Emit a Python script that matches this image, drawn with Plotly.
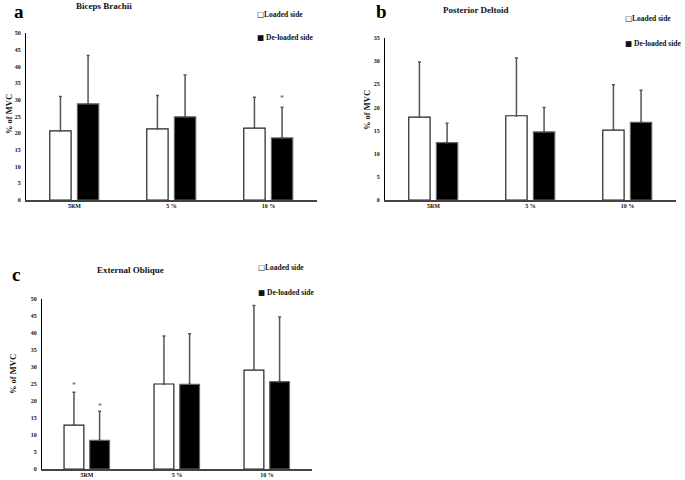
import plotly.graph_objects as go

# ---------------- data ----------------
categories = ["5RM", "5 %", "10 %"]
series_names = ["Loaded side", "De-loaded side"]

biceps_loaded = [20.7, 21.3, 21.5]
biceps_loaded_upper = [31.0, 31.3, 30.8]
biceps_deloaded = [28.8, 24.9, 18.6]
biceps_deloaded_upper = [43.3, 37.4, 27.8]

deltoid_loaded = [17.9, 18.2, 15.1]
deltoid_loaded_upper = [29.8, 30.7, 24.9]
deltoid_deloaded = [12.4, 14.7, 16.8]
deltoid_deloaded_upper = [16.6, 20.0, 23.7]

oblique_loaded = [12.9, 25.0, 29.1]
oblique_loaded_upper = [22.6, 39.1, 48.1]
oblique_deloaded = [8.4, 24.9, 25.7]
oblique_deloaded_upper = [17.0, 39.8, 44.7]

ticks_50 = [0, 5, 10, 15, 20, 25, 30, 35, 40, 45, 50]
ticks_35 = [0, 5, 10, 15, 20, 25, 30, 35]

panel_titles = ["Biceps Brachii", "Posterior Deltoid", "External Oblique"]
panel_letters = ["a", "b", "c"]
y_title = "% of MVC"

# significance markers: (panel index, category index, series index, y value)
asterisks = [(0, 2, 1, 30.3), (2, 0, 0, 24.6), (2, 0, 1, 18.5)]

# ---------------- layout helpers ----------------
W, H = 685, 480
def fx(px):
    return px / W
def fy(py):
    return 1 - py / H

FONT = "Liberation Serif, Times New Roman, serif"
TXT = "#111111"
BAR_W = 0.22
OFFSETS = [-0.255, 0.03]

panels = [
    dict(loaded=biceps_loaded, lu=biceps_loaded_upper, de=biceps_deloaded, du=biceps_deloaded_upper,
         xdom=(26, 317), ydom=(200, 33), ymax=50, ticks=ticks_50,
         letter=(19, 11), title=(104, 6), leg=(255, 14, 37), ytitle=(9, 114)),
    dict(loaded=deltoid_loaded, lu=deltoid_loaded_upper, de=deltoid_deloaded, du=deltoid_deloaded_upper,
         xdom=(385, 676), ydom=(200, 38), ymax=35, ticks=ticks_35,
         letter=(381, 11), title=(476, 10), leg=(623, 19, 43), ytitle=(367, 110)),
    dict(loaded=oblique_loaded, lu=oblique_loaded_upper, de=oblique_deloaded, du=oblique_deloaded_upper,
         xdom=(42, 312), ydom=(469, 299), ymax=50, ticks=ticks_50,
         letter=(16, 274), title=(130, 270), leg=(256, 267, 292), ytitle=(13, 374)),
]

fig = go.Figure()
annotations = []
layout_axes = {}

for i, p in enumerate(panels):
    n = "" if i == 0 else str(i + 1)
    xa, ya = "x" + n, "y" + n
    for s, (vals, upper, fill, outline) in enumerate([
        (p["loaded"], p["lu"], "white", "#222222"),
        (p["de"], p["du"], "black", "#666666"),
    ]):
        fig.add_trace(go.Bar(
            x=categories, y=vals, name=series_names[s], showlegend=False,
            xaxis=xa, yaxis=ya, width=BAR_W, offset=OFFSETS[s],
            marker=dict(color=fill, line=dict(color=outline, width=1.2)),
            error_y=dict(type="data", symmetric=False,
                         array=[u - v for u, v in zip(upper, vals)],
                         arrayminus=[0] * len(vals),
                         color="#555555", thickness=1.5, width=1.5),
        ))
    layout_axes["xaxis" + n] = dict(
        domain=[fx(p["xdom"][0]), fx(p["xdom"][1])], anchor=ya, automargin=False,
        type="category", range=[-0.5, 2.5], showline=True, linecolor="#444444",
        linewidth=1.5, ticks="", showgrid=False, zeroline=False, ticklabelstandoff=-1,
        tickfont=dict(family=FONT, size=6, color=TXT, weight="bold"),
    )
    layout_axes["yaxis" + n] = dict(
        domain=[fy(p["ydom"][0]), fy(p["ydom"][1])], anchor=xa, automargin=False,
        range=[0, p["ymax"]], tickvals=p["ticks"], showline=True, linecolor="black",
        linewidth=1, ticks="", showgrid=False, zeroline=False, ticklabelstandoff=3,
        tickfont=dict(family=FONT, size=6, color=TXT, weight="bold"),
    )
    # panel letter
    annotations.append(dict(text=panel_letters[i], xref="paper", yref="paper",
                            x=fx(p["letter"][0]), y=fy(p["letter"][1]), showarrow=False,
                            xanchor="center", yanchor="middle",
                            font=dict(family=FONT, size=19, color="black", weight="bold")))
    # title
    annotations.append(dict(text=panel_titles[i], xref="paper", yref="paper",
                            x=fx(p["title"][0]), y=fy(p["title"][1]), showarrow=False,
                            xanchor="center", yanchor="middle",
                            font=dict(family=FONT, size=9, color=TXT, weight="bold")))
    # legend
    annotations.append(dict(text="<span style='font-family:DejaVu Sans'>□</span>" + series_names[0],
                            xref="paper", yref="paper",
                            x=fx(p["leg"][0]), y=fy(p["leg"][1]), showarrow=False,
                            xanchor="left", yanchor="middle",
                            font=dict(family=FONT, size=7.5, color=TXT, weight="bold")))
    annotations.append(dict(text="<span style='font-family:DejaVu Sans'>■</span> " + series_names[1],
                            xref="paper", yref="paper",
                            x=fx(p["leg"][0]), y=fy(p["leg"][2]), showarrow=False,
                            xanchor="left", yanchor="middle",
                            font=dict(family=FONT, size=7.5, color=TXT, weight="bold")))
    # y title
    annotations.append(dict(text=y_title, xref="paper", yref="paper", textangle=-90,
                            x=fx(p["ytitle"][0]), y=fy(p["ytitle"][1]), showarrow=False,
                            xanchor="center", yanchor="middle",
                            font=dict(family=FONT, size=8.5, color=TXT, weight="bold")))

for (pi, ci, si, yv) in asterisks:
    n = "" if pi == 0 else str(pi + 1)
    annotations.append(dict(text="*", xref="x" + n, yref="y" + n,
                            x=ci + OFFSETS[si] + BAR_W / 2, y=yv, showarrow=False,
                            yanchor="middle",
                            font=dict(family=FONT, size=8, color="#555555")))

fig.update_layout(
    width=W, height=H, margin=dict(l=0, r=0, t=0, b=0),
    paper_bgcolor="white", plot_bgcolor="white",
    barmode="overlay", annotations=annotations, **layout_axes,
)

fig.write_html("out.html", config={"displayModeBar": False},
               post_script="document.body.style.margin='0';document.body.style.overflow='hidden';")
